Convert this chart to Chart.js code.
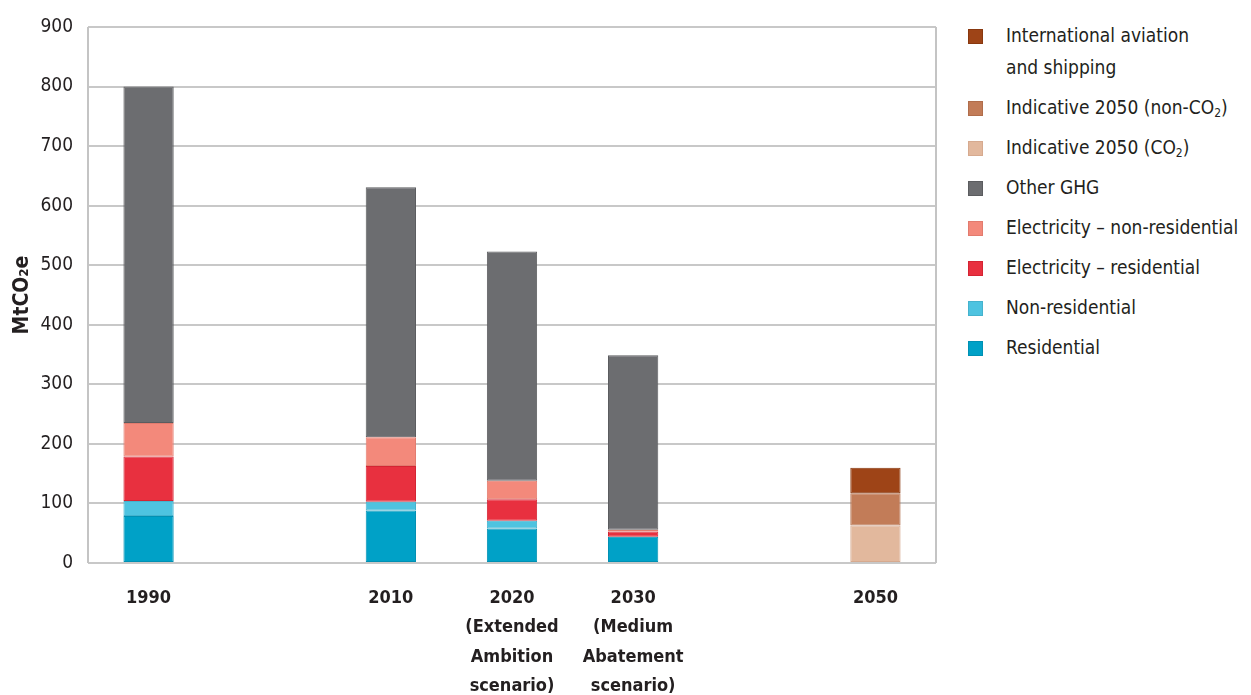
<!DOCTYPE html>
<html>
<head>
<meta charset="utf-8">
<script src="https://cdn.jsdelivr.net/npm/chart.js@4"></script>
<style>
  html, body { margin: 0; padding: 0; background: #fff; }
  body { width: 1251px; height: 695px; position: relative; overflow: hidden;
         font-family: "Liberation Sans Narrow", "DejaVu Sans Condensed", sans-serif; color: #231f20; }
  #wrap { position: absolute; left: 0; top: 0; width: 950px; height: 695px; }
  #legend { position: absolute; left: 968px; top: 20px; width: 283px; }
  .item { position: relative; height: 40px; font-size: 19px; line-height: 32px; }
  .item.two { height: 72px; }
  .sw { position: absolute; left: 0; top: 9px; width: 15px; height: 15px; box-sizing: border-box; }
  .txt { position: absolute; left: 38px; top: -1px; white-space: nowrap; }
  sub { font-size: 12px; vertical-align: -3px; line-height: 0; }
</style>
</head>
<body>
<div id="wrap"><canvas id="c" width="950" height="695"></canvas></div>
<div id="legend"></div>
<script>
// ---- data ----
const categories = [['1990'], [''], ['2010'], ['2020','(Extended','Ambition','scenario)'], ['2030','(Medium','Abatement','scenario)'], [''], ['2050']];
const residential       = [79, null, 88, 58, 44, null, null];
const nonResidential    = [25, null, 15, 13, 0, null, null];
const elecResidential   = [75, null, 60, 36, 9, null, null];
const elecNonResidential= [56, null, 48, 31, 3, null, null];
const otherGHG          = [565, null, 420, 385, 293, null, null];
const indicativeCO2     = [null, null, null, null, null, null, 63];
const indicativeNonCO2  = [null, null, null, null, null, null, 54];
const intlAviation      = [null, null, null, null, null, null, 43];
const yTicks = [0, 100, 200, 300, 400, 500, 600, 700, 800, 900];

const seriesNames = ['Residential', 'Non-residential', 'Electricity – residential', 'Electricity – non-residential',
  'Other GHG', 'Indicative 2050 (CO2)', 'Indicative 2050 (non-CO2)', 'International aviation\nand shipping'];
const seriesData = [residential, nonResidential, elecResidential, elecNonResidential, otherGHG, indicativeCO2, indicativeNonCO2, intlAviation];
const fills   = ['#00a1c7', '#4ec3e0', '#e8303f', '#f3897b', '#6c6d70', '#e2b89d', '#c27c58', '#9e4417'];
const borders = ['#0090b3', '#45b2cd', '#d42433', '#e27b6e', '#5b5c5f', '#d6aa8f', '#b06d4b', '#88380f'];

const FONT = '"Liberation Sans Narrow", "DejaVu Sans Condensed", sans-serif';

const datasets = seriesNames.map((n, i) => ({
  label: n,
  data: seriesData[i],
  backgroundColor: fills[i],
  borderColor: borders[i],
  borderWidth: 1,
  borderSkipped: false,
  barPercentage: 0.415,
  categoryPercentage: 1.0,
  stack: 's'
}));

const edgePlugin = {
  id: 'edges',
  afterDatasetsDraw(chart) {
    const a = chart.chartArea, ctx = chart.ctx;
    ctx.save();
    ctx.strokeStyle = '#c4c4c4';
    ctx.lineWidth = 2;
    ctx.beginPath();
    ctx.moveTo(a.left, a.top); ctx.lineTo(a.left, a.bottom);
    ctx.moveTo(a.right, a.top); ctx.lineTo(a.right, a.bottom);
    ctx.stroke();
    ctx.restore();
  }
};

new Chart(document.getElementById('c'), {
  type: 'bar',
  data: { labels: categories, datasets },
  options: {
    responsive: false,
    animation: false,
    layout: { padding: { left: 10, right: 14, top: 27, bottom: 0 } },
    plugins: { legend: { display: false }, tooltip: { enabled: false } },
    scales: {
      x: {
        stacked: true,
        grid: { display: false },
        border: { display: false },
        ticks: { color: '#231f20', font: { family: FONT, size: 18, weight: 'bold', lineHeight: 1.62 }, padding: 13, maxRotation: 0, autoSkip: false },
        afterFit(s) { s.height = 695 - 563; }
      },
      y: {
        stacked: true,
        min: 0, max: 900,
        afterBuildTicks(s) { s.ticks = yTicks.map(v => ({ value: v })); },
        grid: { color: '#c8c8c8', lineWidth: 2, drawTicks: false },
        border: { display: false },
        ticks: { color: '#231f20', font: { family: FONT, size: 19 }, padding: 15 },
        title: { display: true, text: 'MtCO₂e', color: '#231f20', font: { family: FONT, size: 21, weight: 'bold' }, padding: 0 },
        afterFit(s) { s.width = 78; }
      }
    }
  },
  plugins: [edgePlugin]
});

// ---- legend (HTML, built from the series) ----
const lg = document.getElementById('legend');
for (let i = seriesNames.length - 1; i >= 0; i--) {
  const name = seriesNames[i];
  const div = document.createElement('div');
  div.className = 'item' + (name.includes('\n') ? ' two' : '');
  const sw = document.createElement('div');
  sw.className = 'sw';
  sw.style.background = fills[i];
  sw.style.border = '1px solid ' + borders[i];
  const t = document.createElement('div');
  t.className = 'txt';
  t.innerHTML = name.replace('CO2', 'CO<sub>2</sub>').replace('\n', '<br>');
  div.appendChild(sw); div.appendChild(t);
  lg.appendChild(div);
}
</script>
</body>
</html>
